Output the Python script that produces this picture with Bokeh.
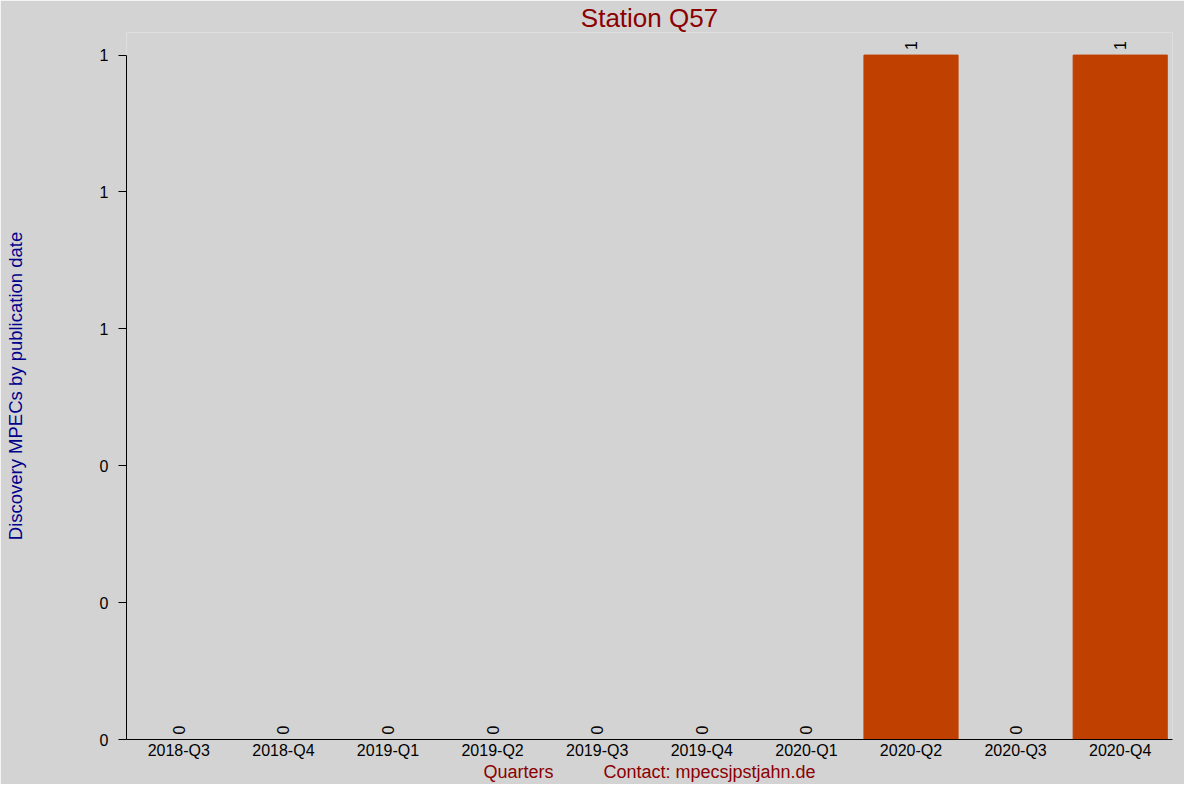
from math import pi

from bokeh.embed import file_html
from bokeh.models import FixedTicker, Label, NumeralTickFormatter
from bokeh.plotting import figure
from bokeh.resources import INLINE

quarters = ["2018-Q3", "2018-Q4", "2019-Q1", "2019-Q2", "2019-Q3",
            "2019-Q4", "2020-Q1", "2020-Q2", "2020-Q3", "2020-Q4"]
mpecs = [0, 0, 0, 0, 0, 0, 0, 1, 0, 1]
y_ticks = [0, 0.2, 0.4, 0.6, 0.8, 1.0]

BG = "#d3d3d3"
FONT = "Liberation Sans"
RED = "#8b0000"
NBSP = "\u00a0"

# a little head room above 1 so the value labels on the tall bars are not clipped
p = figure(
    x_range=quarters,
    y_range=(0, 1.033),
    width=1184,
    height=784,
    output_backend="svg",
    toolbar_location=None,
    min_border_left=126,
    min_border_right=12,
    min_border_top=20,
    min_border_bottom=30,
)
p.background_fill_color = BG
p.border_fill_color = BG
p.outline_line_color = None
p.grid.visible = False

p.title.text = "Station Q57"
p.title.align = "center"
p.title.text_color = RED
p.title.text_font = FONT
p.title.text_font_size = "26px"
p.title.text_font_style = "normal"
p.title.standoff = 0

p.vbar(x=quarters, top=mpecs, width=0.9, color="#c04000")

# value labels, rotated, just above each bar (categorical centres sit at i + 0.5)
for i, v in enumerate(mpecs):
    p.add_layout(Label(x=i + 0.5, y=v, text=str(v), angle=pi / 2, y_offset=5,
                       text_align="left", text_baseline="middle",
                       text_font=FONT, text_font_size="16px", text_color="black"))

# y axis
p.yaxis.ticker = FixedTicker(ticks=y_ticks)
p.yaxis.bounds = (0, 1)
p.yaxis.formatter = NumeralTickFormatter(format="0")
p.yaxis.major_tick_out = 8
p.yaxis.major_tick_in = 0
p.yaxis.minor_tick_line_color = None
p.yaxis.major_label_standoff = 10
p.yaxis.major_label_text_font = FONT
p.yaxis.major_label_text_font_size = "16px"
p.yaxis.major_label_text_color = "black"
p.yaxis.axis_label = "Discovery MPECs by publication date"
p.yaxis.axis_label_text_color = "#00008b"
p.yaxis.axis_label_text_font = FONT
p.yaxis.axis_label_text_font_size = "18.5px"
p.yaxis.axis_label_text_font_style = "normal"
p.yaxis.axis_label_standoff = 71

# x axis
p.xaxis.major_tick_line_color = None
p.xaxis.major_tick_out = 0
p.xaxis.major_tick_in = 0
p.xaxis.minor_tick_line_color = None
p.xaxis.major_label_standoff = 2
p.xaxis.major_label_text_font = FONT
p.xaxis.major_label_text_font_size = "16px"
p.xaxis.major_label_text_color = "black"
p.xaxis.axis_label = "Quarters" + NBSP * 10 + "Contact: mpecsjpstjahn.de"
p.xaxis.axis_label_text_color = RED
p.xaxis.axis_label_text_font = FONT
p.xaxis.axis_label_text_font_size = "18px"
p.xaxis.axis_label_text_font_style = "normal"
p.xaxis.axis_label_standoff = 0

open("out.html", "w").write(file_html(p, INLINE))
